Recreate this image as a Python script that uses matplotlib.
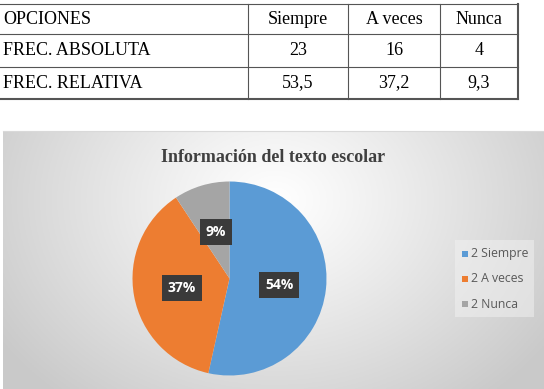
import numpy as np
import matplotlib
matplotlib.use("Agg")
import matplotlib.pyplot as plt

# ---- data ----
options = ["Siempre", "A veces", "Nunca"]
frec_abs = [23, 16, 4]
frec_rel = [53.5, 37.2, 9.3]
pct_labels = ["54%", "37%", "9%"]
legend_labels = ["2 Siempre", "2 A veces", "2 Nunca"]
row_labels = ["OPCIONES", "FREC. ABSOLUTA", "FREC. RELATIVA"]
title = "Información del texto escolar"
colors = ["#5b9bd5", "#ed7d31", "#a5a5a5"]

W, H = 544, 389
fig = plt.figure(figsize=(W / 100, H / 100), dpi=100)
fig.patch.set_facecolor("white")

def fx(x):
    return x / W

def fy(y):
    return 1 - y / H

serif = "Liberation Serif"

# ---- chart panel with radial gradient ----
px0, py0, px1, py1 = 3, 131, 544, 389
bg = fig.add_axes([fx(px0), fy(py1), fx(px1 - px0), (py1 - py0) / H])
bg.axis("off")
gx, gy = np.meshgrid(np.linspace(px0, px1, 300), np.linspace(py0, py1, 150))
d = np.sqrt(((gx - 275) / 330) ** 2 + ((gy - 200) / 260) ** 2)
d = np.clip(d, 0, 1)
val = 1.0 - 0.21 * d ** 1.1
img = np.dstack([val, val, val])
bg.imshow(img, extent=[px0, px1, py1, py0], aspect="auto")
bg.set_xlim(px0, px1)
bg.set_ylim(py1, py0)

# ---- pie ----
cx, cy, r = 229.5, 278.5, 97
pax = fig.add_axes([fx(cx - r), fy(cy + r), fx(2 * r), 2 * r / H])
wedges, _ = pax.pie(frec_rel, colors=colors, startangle=90, counterclock=False,
                    wedgeprops=dict(linewidth=0))
pax.set_xlim(-1, 1)
pax.set_ylim(-1, 1)
pax.set_aspect("auto")

# ---- overlay axes in pixel coords ----
page = fig.add_axes([0, 0, 1, 1])
page.set_xlim(0, W)
page.set_ylim(H, 0)
page.axis("off")
page.patch.set_alpha(0)

# table
col_x = [0, 248, 348, 440, 518]
row_y = [4, 34, 67, 99]
for y in row_y:
    lw = 1.5 if y == row_y[-1] else 0.8
    page.plot([col_x[0], col_x[-1]], [y, y], color="#555555", lw=lw)
for x in col_x[1:]:
    lw = 1.5 if x == col_x[-1] else 0.8
    page.plot([x, x], [row_y[0], row_y[-1]], color="#555555", lw=lw)

rows = [options, [str(v) for v in frec_abs],
        [f"{v:.1f}".replace(".", ",") for v in frec_rel]]
for r_, (lab, vals) in enumerate(zip(row_labels, rows)):
    yc = (row_y[r_] + row_y[r_ + 1]) / 2
    page.text(3, yc, lab, ha="left", va="center", fontsize=13,
              family=serif, color="black")
    for c, v in enumerate(vals):
        xc = (col_x[c + 1] + col_x[c + 2]) / 2
        page.text(xc, yc, v, ha="center", va="center", fontsize=13,
                  family=serif, color="black")

page.plot([px0, px1], [py0, py0], color="#d9d9d9", lw=0.8)

# title
page.text(273.5, 157, title, ha="center", va="center", fontsize=13,
          fontweight="bold", family=serif, color="#404040")

# pie labels
label_pos = [(279, 285), (182, 288), (216, 232)]
for (lx, ly), t in zip(label_pos, pct_labels):
    page.text(lx, ly, t, ha="center", va="center", fontsize=10,
              fontweight="bold", family="Open Sans", color="white",
              bbox=dict(boxstyle="square,pad=0.4", fc="#3a3a3a", ec="none"))

# ---- legend ----
lx0, ly0, lx1, ly1 = 455, 240, 534, 317
page.add_patch(plt.Rectangle((lx0, ly0), lx1 - lx0, ly1 - ly0,
                             fc="#f2f2f2", ec="none", alpha=0.5))
leg_y = [254, 279, 304]
for yy, lab, col in zip(leg_y, legend_labels, colors):
    page.add_patch(plt.Rectangle((462, yy - 3), 6, 6, fc=col, ec="none"))
    page.text(471, yy, lab, ha="left", va="center", fontsize=8.8,
              family="Open Sans", color="#595959")

fig.savefig("out.png", dpi=100)
